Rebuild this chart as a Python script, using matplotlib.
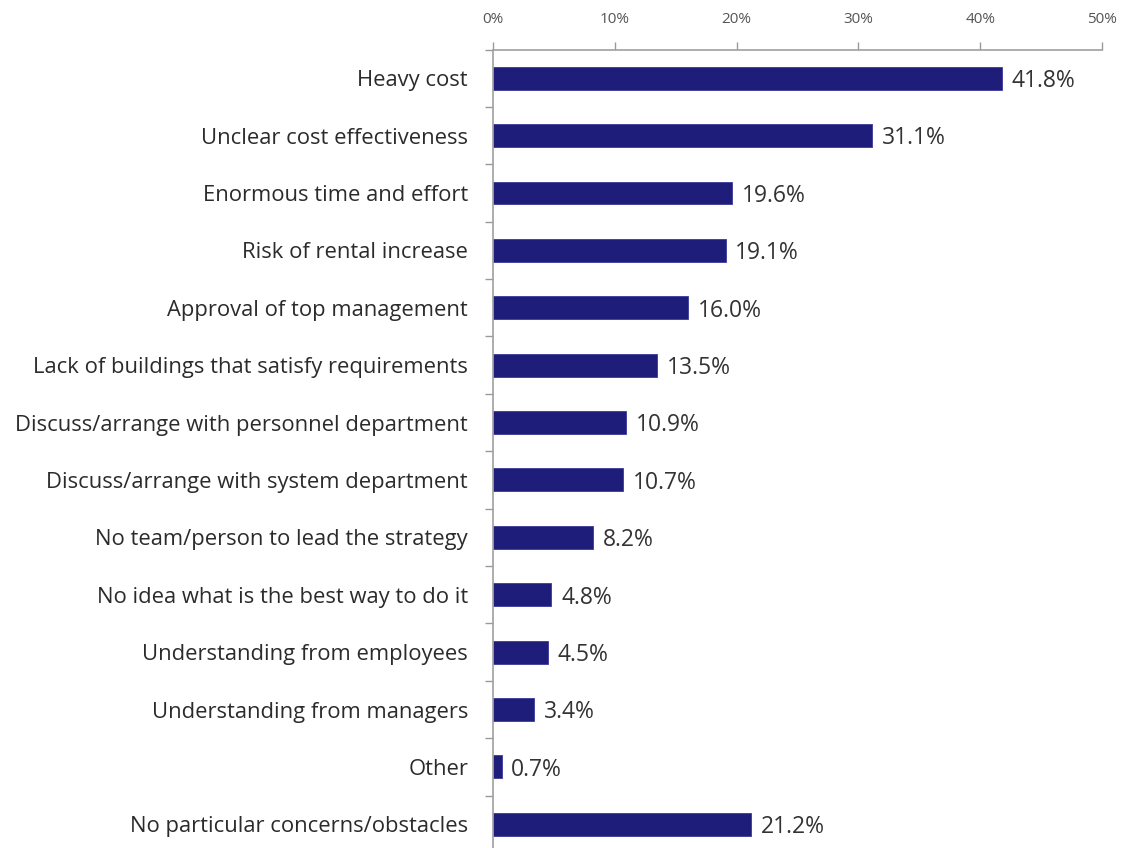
import matplotlib.pyplot as plt
from matplotlib.ticker import PercentFormatter

categories = [
    "Heavy cost",
    "Unclear cost effectiveness",
    "Enormous time and effort",
    "Risk of rental increase",
    "Approval of top management",
    "Lack of buildings that satisfy requirements",
    "Discuss/arrange with personnel department",
    "Discuss/arrange with system department",
    "No team/person to lead the strategy",
    "No idea what is the best way to do it",
    "Understanding from employees",
    "Understanding from managers",
    "Other",
    "No particular concerns/obstacles",
]
values = [41.8, 31.1, 19.6, 19.1, 16.0, 13.5, 10.9, 10.7, 8.2, 4.8, 4.5, 3.4, 0.7, 21.2]
x_ticks = [0, 10, 20, 30, 40, 50]

plt.rcParams['font.family'] = ['Open Sans', 'DejaVu Sans']

fig = plt.figure(figsize=(11.3, 8.48), dpi=100)
ax = fig.add_axes([0.4363, -0.0059, 0.5389, 0.9475])

y = list(range(len(categories)))
ax.barh(y, values, height=0.4, color='#1f1d7a', edgecolor='#3a3a9a', linewidth=0.6)

# value labels to the right of each bar
for yi, v in zip(y, values):
    ax.text(v + 0.8, yi + 0.05, f"{v:.1f}%", va='center', ha='left',
            fontsize=16.5, color='#333333')

ax.set_xlim(0, 50)
ax.set_ylim(len(categories) - 0.5, -0.5)
ax.set_xticks(x_ticks)
ax.xaxis.set_major_formatter(PercentFormatter(decimals=0))
ax.xaxis.tick_top()

# ticks sit between categories on the y axis
ax.set_yticks([i - 0.5 for i in range(len(categories) + 1)], minor=False)
ax.set_yticklabels([])
ax.set_yticks(y, minor=True)
ax.set_yticklabels(categories, minor=True)
ax.tick_params(axis='y', which='minor', length=0, pad=18, labelsize=15.8, labelcolor='#2b2b2b')
ax.tick_params(axis='y', which='major', length=6, color='#999999', width=1)
ax.tick_params(axis='x', length=6, color='#999999', width=1, pad=10,
               labelsize=11, labelcolor='#555555')

for side in ['right', 'bottom']:
    ax.spines[side].set_visible(False)
for side in ['left', 'top']:
    ax.spines[side].set_color('#a0a0a0')
    ax.spines[side].set_linewidth(1.2)

fig.savefig('out.png', dpi=100)
